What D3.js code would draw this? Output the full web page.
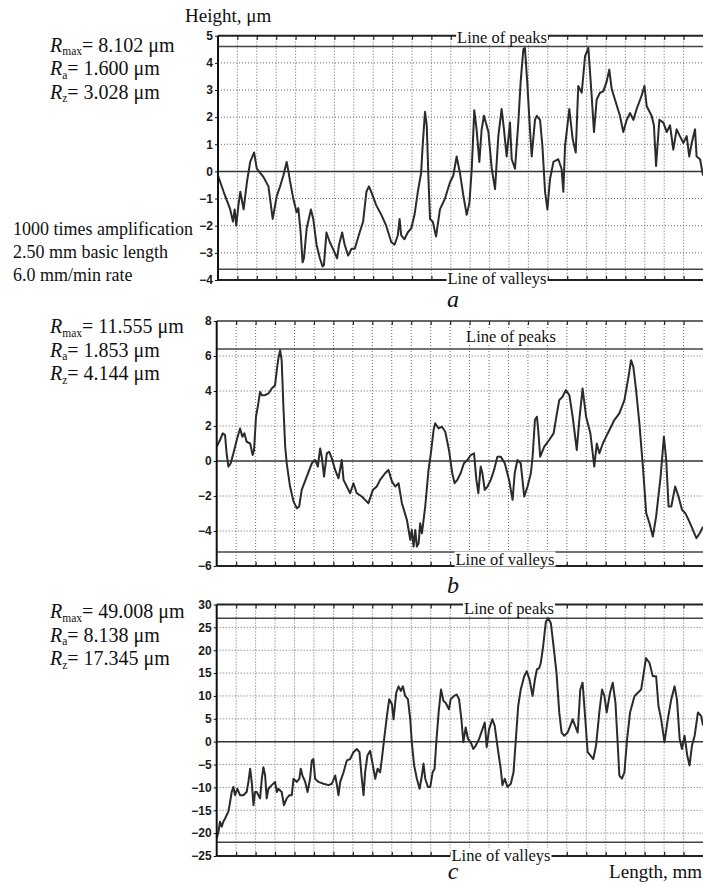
<!DOCTYPE html>
<html>
<head>
<meta charset="utf-8">
<script src="https://cdn.jsdelivr.net/npm/d3@7"></script>
<style>
  body { margin: 0; background: #fff; }
  svg { display: block; }
  .serif { font-family: "Liberation Serif", "Times New Roman", serif; fill: #111; }
  .tick text { font-family: "Liberation Sans", Arial, sans-serif; font-weight: bold; font-size: 12px; fill: #1a1a1a; }
</style>
</head>
<body>
<script>
// profile data: [position in grid divisions (0.1 mm each), height in um]
const profileA = [
  [0,-0.15],[0.29,-0.75],[0.63,-1.4],[0.77,-1.85],[0.86,-1.4],[0.94,-2.0],[1.06,-1.2],[1.15,-0.75],[1.32,-1.4],[1.49,-0.4],
  [1.66,0.35],[1.86,0.7],[2.0,0.1],[2.17,-0.05],[2.34,-0.2],[2.6,-0.55],[2.82,-1.75],[3.03,-0.9],[3.2,-0.55],[3.37,-0.15],
  [3.54,0.35],[3.63,0.0],[3.71,-0.35],[3.88,-1.0],[4.05,-1.5],[4.14,-1.35],[4.26,-2.25],[4.36,-3.35],[4.43,-3.2],[4.57,-2.1],
  [4.79,-1.4],[4.91,-1.75],[5.08,-2.7],[5.25,-3.2],[5.39,-3.5],[5.46,-3.45],[5.59,-2.25],[5.76,-2.6],[6.02,-3.0],[6.14,-3.2],
  [6.24,-2.7],[6.4,-2.25],[6.53,-2.7],[6.71,-3.1],[6.88,-2.85],[7.05,-2.85],[7.3,-2.25],[7.48,-1.85],[7.65,-0.75],[7.78,-0.55],
  [7.9,-0.75],[8.16,-1.25],[8.42,-1.6],[8.67,-2.0],[8.93,-2.6],[9.1,-2.7],[9.27,-2.35],[9.36,-1.75],[9.44,-2.35],[9.61,-2.5],
  [9.78,-2.25],[9.96,-2.1],[10.13,-1.6],[10.3,-0.75],[10.47,-0.05],[10.55,0.95],[10.67,2.2],[10.76,1.7],[10.85,-0.3],[10.93,-1.75],
  [11.07,-1.85],[11.24,-2.4],[11.44,-1.4],[11.7,-1.0],[11.96,-0.4],[12.13,-0.15],[12.3,0.55],[12.47,-0.05],[12.65,-0.9],[12.82,-1.6],
  [12.96,-1.15],[13.08,0.1],[13.21,2.25],[13.33,1.55],[13.47,0.35],[13.59,1.55],[13.71,2.05],[13.94,1.45],[14.11,0.1],[14.28,-0.65],
  [14.45,1.3],[14.62,2.3],[14.74,1.55],[14.88,0.55],[15.05,1.8],[15.14,0.45],[15.31,0.1],[15.48,1.8],[15.6,3.3],[15.74,4.5],
  [15.82,4.55],[15.94,3.3],[16.08,1.55],[16.17,0.55],[16.34,1.9],[16.43,2.05],[16.6,1.9],[16.72,0.95],[16.86,-0.75],[16.98,-1.4],
  [17.11,-0.3],[17.29,0.35],[17.54,0.45],[17.71,0.1],[17.8,-0.75],[17.89,0.95],[18.11,2.3],[18.28,1.2],[18.44,0.7],[18.57,3.15],
  [18.75,2.9],[18.92,4.25],[19.09,4.55],[19.26,2.8],[19.38,1.45],[19.52,2.65],[19.69,2.9],[19.86,2.95],[20.03,3.3],[20.17,3.75],
  [20.29,3.05],[20.46,2.65],[20.72,2.05],[20.89,1.45],[21.07,1.9],[21.24,2.15],[21.41,1.9],[21.58,2.3],[21.84,2.8],[21.98,3.15],
  [22.1,2.4],[22.35,2.05],[22.47,1.7],[22.58,0.2],[22.75,1.9],[22.96,1.8],[23.13,1.45],[23.3,1.7],[23.47,0.8],[23.64,1.55],
  [23.81,1.3],[23.99,1.05],[24.16,1.3],[24.29,0.55],[24.42,1.05],[24.59,1.55],[24.67,0.55],[24.85,0.45],[25.0,-0.15]
];

const profileB = [
  [0,0.82],[0.17,1.2],[0.31,1.58],[0.43,1.48],[0.51,0.44],[0.6,-0.32],[0.72,-0.13],[0.86,0.44],[1.03,1.2],[1.2,1.86],
  [1.32,1.39],[1.42,1.58],[1.54,1.1],[1.72,1.0],[1.85,0.34],[1.92,0.63],[2.02,2.53],[2.14,3.29],[2.23,3.95],[2.32,3.76],
  [2.49,3.76],[2.66,3.86],[2.83,4.14],[3.0,4.33],[3.09,5.19],[3.17,5.86],[3.26,6.33],[3.34,5.76],[3.43,3.1],[3.52,0.82],
  [3.6,-0.13],[3.77,-1.46],[3.95,-2.32],[4.12,-2.7],[4.24,-2.6],[4.37,-1.65],[4.63,-0.89],[4.89,-0.13],[5.06,0.06],[5.2,-0.32],
  [5.32,0.72],[5.4,0.25],[5.52,-0.89],[5.66,0.44],[5.78,0.53],[5.92,0.15],[6.09,-0.51],[6.26,-0.99],[6.43,0.06],[6.52,-1.08],
  [6.69,-1.46],[6.86,-1.84],[7.03,-1.27],[7.2,-1.84],[7.46,-2.03],[7.63,-2.22],[7.8,-2.41],[8.03,-1.65],[8.23,-1.46],[8.4,-1.08],
  [8.66,-0.7],[8.83,-0.51],[9.01,-1.18],[9.18,-1.46],[9.35,-1.27],[9.52,-2.41],[9.78,-3.37],[9.95,-4.5],[10.03,-3.94],[10.12,-4.89],
  [10.21,-3.94],[10.29,-4.89],[10.38,-4.7],[10.46,-3.56],[10.55,-4.13],[10.72,-2.6],[10.89,-0.51],[11.01,0.44],[11.15,1.77],[11.23,2.15],
  [11.41,1.86],[11.58,1.96],[11.75,1.67],[11.94,0.63],[12.11,-0.7],[12.23,-1.27],[12.37,-1.08],[12.54,-0.7],[12.71,-0.13],[12.89,0.06],
  [13.06,0.34],[13.23,0.44],[13.35,-1.08],[13.45,-1.84],[13.57,-0.32],[13.66,-0.7],[13.78,-1.65],[13.92,-1.46],[14.09,-1.08],[14.26,-0.51],
  [14.43,0.25],[14.6,0.25],[14.81,-0.13],[15.03,-1.08],[15.21,-2.22],[15.32,-0.7],[15.46,0.06],[15.63,-0.13],[15.81,-2.03],[15.98,-1.46],
  [16.15,-0.7],[16.24,0.25],[16.36,2.34],[16.46,2.53],[16.53,1.77],[16.63,0.25],[16.84,0.82],[17.09,1.2],[17.32,1.58],[17.49,2.72],
  [17.61,3.48],[17.78,3.67],[17.95,4.05],[18.13,3.76],[18.3,2.53],[18.51,0.63],[18.64,2.34],[18.81,4.14],[18.99,2.53],[19.21,1.58],
  [19.41,-0.32],[19.54,1.0],[19.67,0.44],[19.85,1.0],[20.02,1.39],[20.19,1.77],[20.44,2.34],[20.7,2.72],[20.96,3.48],[21.17,4.81],
  [21.3,5.76],[21.42,5.38],[21.56,4.05],[21.73,2.15],[21.91,-0.32],[22.08,-2.98],[22.25,-3.56],[22.42,-4.32],[22.59,-3.18],[22.82,-0.89],
  [22.99,1.39],[23.11,0.06],[23.23,-2.6],[23.37,-2.6],[23.57,-1.46],[23.74,-2.03],[23.92,-2.79],[24.09,-2.98],[24.26,-3.37],[24.48,-3.94],
  [24.66,-4.41],[24.83,-4.13],[25.0,-3.75]
];

const profileC = [
  [0,-21.1],[0.09,-19.7],[0.17,-17.5],[0.26,-18.6],[0.34,-17.5],[0.43,-16.8],[0.51,-16.1],[0.6,-15.3],[0.69,-13.2],[0.77,-11.0],
  [0.86,-9.9],[0.94,-11.7],[1.06,-10.3],[1.2,-11.7],[1.37,-11.7],[1.54,-11.0],[1.63,-8.8],[1.72,-5.9],[1.8,-8.8],[1.89,-13.9],
  [1.97,-11.0],[2.06,-11.0],[2.14,-11.7],[2.23,-12.4],[2.32,-8.1],[2.4,-5.6],[2.49,-7.4],[2.57,-12.4],[2.66,-10.3],[2.83,-9.5],
  [3.0,-8.8],[3.09,-11.0],[3.17,-10.3],[3.34,-11.0],[3.46,-13.9],[3.6,-12.4],[3.74,-11.7],[3.86,-11.7],[3.95,-8.1],[4.12,-8.8],
  [4.25,-8.1],[4.32,-5.9],[4.41,-7.4],[4.55,-8.8],[4.67,-11.0],[4.8,-8.1],[4.89,-4.1],[4.97,-3.8],[5.06,-8.1],[5.23,-8.8],
  [5.49,-9.2],[5.75,-9.5],[5.92,-9.2],[6.09,-7.4],[6.17,-9.2],[6.26,-11.7],[6.35,-8.8],[6.52,-6.7],[6.69,-4.1],[6.86,-3.8],
  [7.03,-2.3],[7.2,-1.6],[7.34,-2.3],[7.46,-8.1],[7.55,-11.7],[7.63,-6.7],[7.75,-3.0],[7.89,-2.0],[8.03,-5.2],[8.15,-8.1],
  [8.27,-5.9],[8.4,-6.7],[8.49,-3.8],[8.61,0.6],[8.75,5.6],[8.87,9.3],[9.01,8.2],[9.09,4.9],[9.23,10.7],[9.35,12.1],
  [9.47,11.1],[9.57,12.1],[9.69,10.0],[9.83,9.3],[9.95,4.9],[10.03,-0.1],[10.15,-5.2],[10.29,-8.1],[10.43,-10.3],[10.55,-7.4],
  [10.63,-4.8],[10.72,-8.1],[10.86,-9.9],[10.98,-9.9],[11.1,-6.7],[11.2,-5.9],[11.29,-0.1],[11.41,6.4],[11.53,11.4],[11.66,8.9],
  [11.77,8.5],[11.94,7.1],[12.03,9.3],[12.2,10.0],[12.34,10.3],[12.46,9.3],[12.58,4.9],[12.68,-0.1],[12.8,3.1],[12.92,0.6],
  [13.06,-0.1],[13.19,-1.6],[13.31,-0.9],[13.49,0.6],[13.66,2.7],[13.78,4.2],[13.88,-1.2],[14.0,2.7],[14.17,4.9],[14.29,3.5],
  [14.43,-0.9],[14.6,-5.9],[14.69,-9.5],[14.81,-8.1],[14.95,-9.9],[15.12,-9.2],[15.26,-6.7],[15.38,0.6],[15.5,7.8],[15.63,11.4],
  [15.81,14.3],[15.94,15.4],[16.08,13.6],[16.24,10.0],[16.36,13.6],[16.46,15.8],[16.58,16.1],[16.66,17.2],[16.78,20.8],[16.92,26.2],
  [17.04,27.0],[17.18,25.9],[17.32,20.8],[17.47,15.0],[17.61,6.4],[17.73,2.0],[17.87,1.3],[18.04,2.0],[18.18,3.5],[18.3,4.9],
  [18.42,3.5],[18.56,2.0],[18.69,11.4],[18.81,12.9],[18.95,4.9],[19.07,-2.3],[19.21,-3.0],[19.36,-3.8],[19.5,-0.9],[19.67,6.4],
  [19.81,11.4],[19.93,10.0],[20.05,6.4],[20.22,10.7],[20.36,12.9],[20.5,8.5],[20.62,-0.9],[20.7,-7.4],[20.83,-8.1],[20.96,-6.7],
  [21.1,0.6],[21.25,6.4],[21.48,10.0],[21.65,10.7],[21.82,11.4],[21.95,15.0],[22.07,18.3],[22.25,17.2],[22.42,14.3],[22.59,14.3],
  [22.71,7.8],[22.85,4.9],[23.02,-0.1],[23.19,4.9],[23.37,9.3],[23.54,12.1],[23.66,9.3],[23.8,0.6],[23.92,-1.6],[24.05,1.3],
  [24.19,-3.0],[24.31,-5.2],[24.43,-0.9],[24.57,1.3],[24.74,6.4],[24.91,5.6],[25.0,3.5]
];

// axis ranges and ticks
const yDomainA = [-4, 5], yTicksA = [5, 4, 3, 2, 1, 0, -1, -2, -3, -4];
const yDomainB = [-6, 8], yTicksB = [8, 6, 4, 2, 0, -2, -4, -6];
const yDomainC = [-25, 30], yTicksC = [30, 25, 20, 15, 10, 5, 0, -5, -10, -15, -20, -25];
const divisions = 25;

// line of peaks / valleys levels
const peaksLevel = [4.6, 6.4, 27.0];
const valleysLevel = [-3.6, -5.2, -22.0];

// roughness parameters
const statNames = ["max", "a", "z"];
const statsA = ["8.102", "1.600", "3.028"];
const statsB = ["11.555", "1.853", "4.144"];
const statsC = ["49.008", "8.138", "17.345"];
const panelLetters = ["a", "b", "c"];
const infoLines = ["1000 times amplification", "2.50 mm basic length", "6.0 mm/min rate"];

const W = 703, H = 884;
const svg = d3.select("body").append("svg")
    .attr("width", W)
    .attr("height", H);

const panels = [
  { prof: profileA, dom: yDomainA, ticks: yTicksA, stats: statsA, left: 218, top: 35.7, bottom: 280,
    statY: 51.7, letterY: 307, peaksLab: [502, 37], valleysLab: [497, 278.5], topStroke: "#222" },
  { prof: profileB, dom: yDomainB, ticks: yTicksB, stats: statsB, left: 216.7, top: 321, bottom: 566,
    statY: 333.3, letterY: 593, peaksLab: [511, 336], valleysLab: [505, 559], topStroke: "#666" },
  { prof: profileC, dom: yDomainC, ticks: yTicksC, stats: statsC, left: 216.7, top: 604.5, bottom: 856,
    statY: 618.3, letterY: 879, peaksLab: [509, 608], valleysLab: [501, 855.5], topStroke: "#222" }
];

panels.forEach((p, i) => {
  const x = d3.scaleLinear().domain([0, divisions]).range([p.left, W]);
  const y = d3.scaleLinear().domain(p.dom).range([p.bottom, p.top]);
  const g = svg.append("g");

  // dotted grid
  g.selectAll("line.vgrid")
    .data(d3.range(1, divisions))
    .enter().append("line")
      .attr("x1", d => x(d)).attr("x2", d => x(d))
      .attr("y1", p.top).attr("y2", p.bottom)
      .attr("stroke", "#6a6a6a").attr("stroke-width", 1)
      .attr("stroke-dasharray", "1,2");

  g.selectAll("line.hgrid")
    .data(p.ticks.filter(t => t !== 0 && t !== p.dom[0] && t !== p.dom[1]))
    .enter().append("line")
      .attr("x1", p.left).attr("x2", W)
      .attr("y1", d => y(d)).attr("y2", d => y(d))
      .attr("stroke", "#6a6a6a").attr("stroke-width", 1)
      .attr("stroke-dasharray", "1,2");

  // zero line, peaks and valleys lines
  g.append("line")
    .attr("x1", p.left).attr("x2", W)
    .attr("y1", y(0)).attr("y2", y(0))
    .attr("stroke", "#333").attr("stroke-width", 1.5);

  [peaksLevel[i], valleysLevel[i]].forEach(v => {
    g.append("line")
      .attr("x1", p.left).attr("x2", W)
      .attr("y1", y(v)).attr("y2", y(v))
      .attr("stroke", "#444").attr("stroke-width", 1.5);
  });

  // top and bottom borders with small inward ticks
  g.append("line")
    .attr("x1", p.left).attr("x2", W)
    .attr("y1", p.top).attr("y2", p.top)
    .attr("stroke", p.topStroke).attr("stroke-width", 2);
  g.append("line")
    .attr("x1", p.left).attr("x2", W)
    .attr("y1", p.bottom).attr("y2", p.bottom)
    .attr("stroke", "#222").attr("stroke-width", 2);

  g.append("g")
    .attr("transform", `translate(0,${p.bottom})`)
    .call(d3.axisTop(x).tickValues(d3.range(1, divisions)).tickSize(4).tickFormat(""))
    .call(a => a.select(".domain").remove())
    .selectAll("line").attr("stroke", "#222").attr("stroke-width", 1.2);
  g.append("g")
    .attr("transform", `translate(0,${p.top})`)
    .call(d3.axisBottom(x).tickValues(d3.range(1, divisions)).tickSize(4).tickFormat(""))
    .call(a => a.select(".domain").remove())
    .selectAll("line").attr("stroke", "#222").attr("stroke-width", 1.2);

  // profile
  g.append("path")
    .datum(p.prof)
    .attr("fill", "none")
    .attr("stroke", "#2b2b2b")
    .attr("stroke-width", 2)
    .attr("stroke-linejoin", "round")
    .attr("d", d3.line().x(d => x(d[0])).y(d => y(d[1])));

  // left axis
  const ax = g.append("g")
    .attr("class", "yaxis")
    .attr("transform", `translate(${p.left},0)`)
    .call(d3.axisLeft(y).tickValues(p.ticks).tickSize(3).tickPadding(2));
  ax.select(".domain").attr("stroke", "#111").attr("stroke-width", 2)
    .attr("d", `M0,${p.top}V${p.bottom}`);
  ax.selectAll(".tick line").attr("stroke", "#111");

  // line of peaks / valleys labels with white backing
  [["Line of peaks", p.peaksLab], ["Line of valleys", p.valleysLab]].forEach(([txt, pos]) => {
    const lab = g.append("g");
    const t = lab.append("text")
      .attr("class", "serif")
      .attr("x", pos[0]).attr("y", pos[1])
      .attr("text-anchor", "middle")
      .attr("dominant-baseline", "central")
      .attr("font-size", 16.5)
      .text(txt);
    const bb = t.node().getBBox();
    lab.insert("rect", "text")
      .attr("x", bb.x - 1).attr("y", bb.y + 2)
      .attr("width", bb.width + 2).attr("height", bb.height - 4)
      .attr("fill", "#fff");
  });

  // R parameters
  statNames.forEach((s, k) => {
    const t = svg.append("text")
      .attr("class", "serif")
      .attr("x", 50).attr("y", p.statY + k * 23.5)
      .attr("font-size", 20);
    t.append("tspan").attr("font-style", "italic").text("R");
    t.append("tspan").attr("font-size", 11.5).attr("dy", 3.5).text(s);
    t.append("tspan").attr("dy", -3.5).text("= " + p.stats[k] + " μm");
  });

  // panel letter
  svg.append("text")
    .attr("class", "serif")
    .attr("x", 453).attr("y", p.letterY)
    .attr("text-anchor", "middle")
    .attr("font-size", 24)
    .attr("font-style", "italic")
    .text(panelLetters[i]);
});

svg.append("text")
  .attr("class", "serif")
  .attr("x", 185).attr("y", 21.5)
  .attr("font-size", 19)
  .text("Height, μm");

svg.append("text")
  .attr("class", "serif")
  .attr("x", 702).attr("y", 878)
  .attr("text-anchor", "end")
  .attr("font-size", 19)
  .text("Length, mm");

svg.selectAll("text.info")
  .data(infoLines)
  .enter().append("text")
    .attr("class", "serif info")
    .attr("x", 13).attr("y", (d, k) => 235 + k * 23)
    .attr("font-size", 18)
    .text(d => d);
</script>
</body>
</html>
